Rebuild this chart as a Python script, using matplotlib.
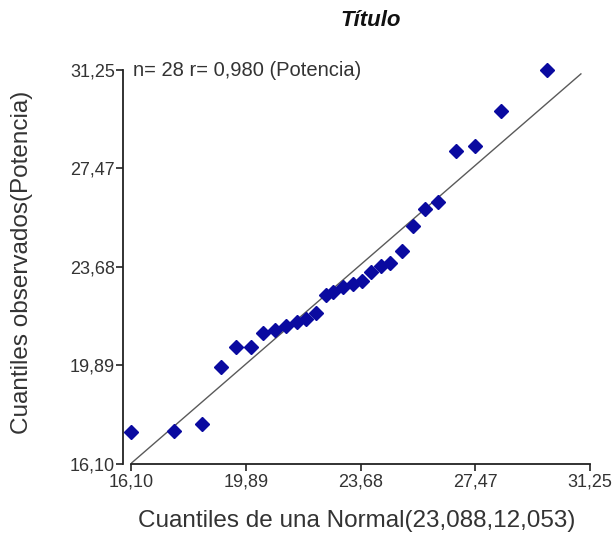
import matplotlib
matplotlib.use("Agg")
import matplotlib.pyplot as plt
from matplotlib.ticker import FixedLocator, FixedFormatter

plt.rcParams['font.family'] = ['Liberation Sans', 'DejaVu Sans']

# Data
theoretical_q = [16.10, 17.52, 18.44, 19.07, 19.57, 20.06, 20.46, 20.85, 21.22, 21.58,
                 21.88, 22.21, 22.54, 22.77, 23.10, 23.43, 23.72, 24.02, 24.35, 24.66,
                 25.03, 25.42, 25.80, 26.23, 26.83, 27.45, 28.30, 29.82]
observed_q = [17.33, 17.37, 17.64, 19.83, 20.60, 20.58, 21.14, 21.27, 21.41, 21.56,
              21.68, 21.91, 22.60, 22.72, 22.89, 23.02, 23.12, 23.50, 23.73, 23.83,
              24.29, 25.25, 25.89, 26.19, 28.15, 28.34, 29.69, 31.25]
ref_line_x = [16.10, 30.95]
ref_line_y = [16.12, 31.10]
tick_values = [16.10, 19.89, 23.68, 27.47, 31.25]
tick_labels = ["16,10", "19,89", "23,68", "27,47", "31,25"]

title = "Título"
xlabel = "Cuantiles de una Normal(23,088,12,053)"
ylabel = "Cuantiles observados(Potencia)"
annot = "n= 28 r= 0,980 (Potencia)"

W, H = 612, 537
fig = plt.figure(figsize=(W / 100, H / 100), dpi=100)
ax = fig.add_axes([131 / W, (H - 464) / H, 459 / W, 394 / H])

txt_color = "#333333"
ax.plot(ref_line_x, ref_line_y, color="#5a5a5a", lw=1.0, zorder=2)
ax.plot(theoretical_q, observed_q, linestyle="none", marker="D", ms=7,
        color="#0a0aa0", markeredgecolor="#0a0aa0", zorder=3, clip_on=False)

ax.set_xlim(16.10, 31.25)
ax.set_ylim(16.10, 31.25)

for s in ("top", "right"):
    ax.spines[s].set_visible(False)
ax.spines["left"].set_position(("outward", 6))
ax.spines["left"].set_linewidth(1.3)
ax.spines["bottom"].set_linewidth(1.3)
ax.spines["left"].set_color("#222222")
ax.spines["bottom"].set_color("#222222")

ax.xaxis.set_major_locator(FixedLocator(tick_values))
ax.xaxis.set_major_formatter(FixedFormatter(tick_labels))
ax.yaxis.set_major_locator(FixedLocator(tick_values))
ax.yaxis.set_major_formatter(FixedFormatter(tick_labels))
ax.tick_params(axis="both", direction="out", length=5, width=1.2, color="#222222",
               labelsize=13, labelcolor=txt_color)
ax.tick_params(axis="y", pad=0.5)
ax.tick_params(axis="x", pad=1.5)

fig.text(357 / W, 1 - 521 / H, xlabel, fontsize=17.5, color=txt_color,
         ha="center", va="center")
fig.text(22 / W, 1 - 262 / H, ylabel, fontsize=17.5, color=txt_color,
         ha="center", va="center", rotation=90)
fig.text(371 / W, 1 - 20 / H, title, fontsize=16, fontweight="bold", fontstyle="italic",
         ha="center", va="center", color="#111111")
ax.text(0.004, 1.0, annot, transform=ax.transAxes, fontsize=14.5, color=txt_color,
        ha="left", va="center")

fig.savefig("out.png", dpi=100)
